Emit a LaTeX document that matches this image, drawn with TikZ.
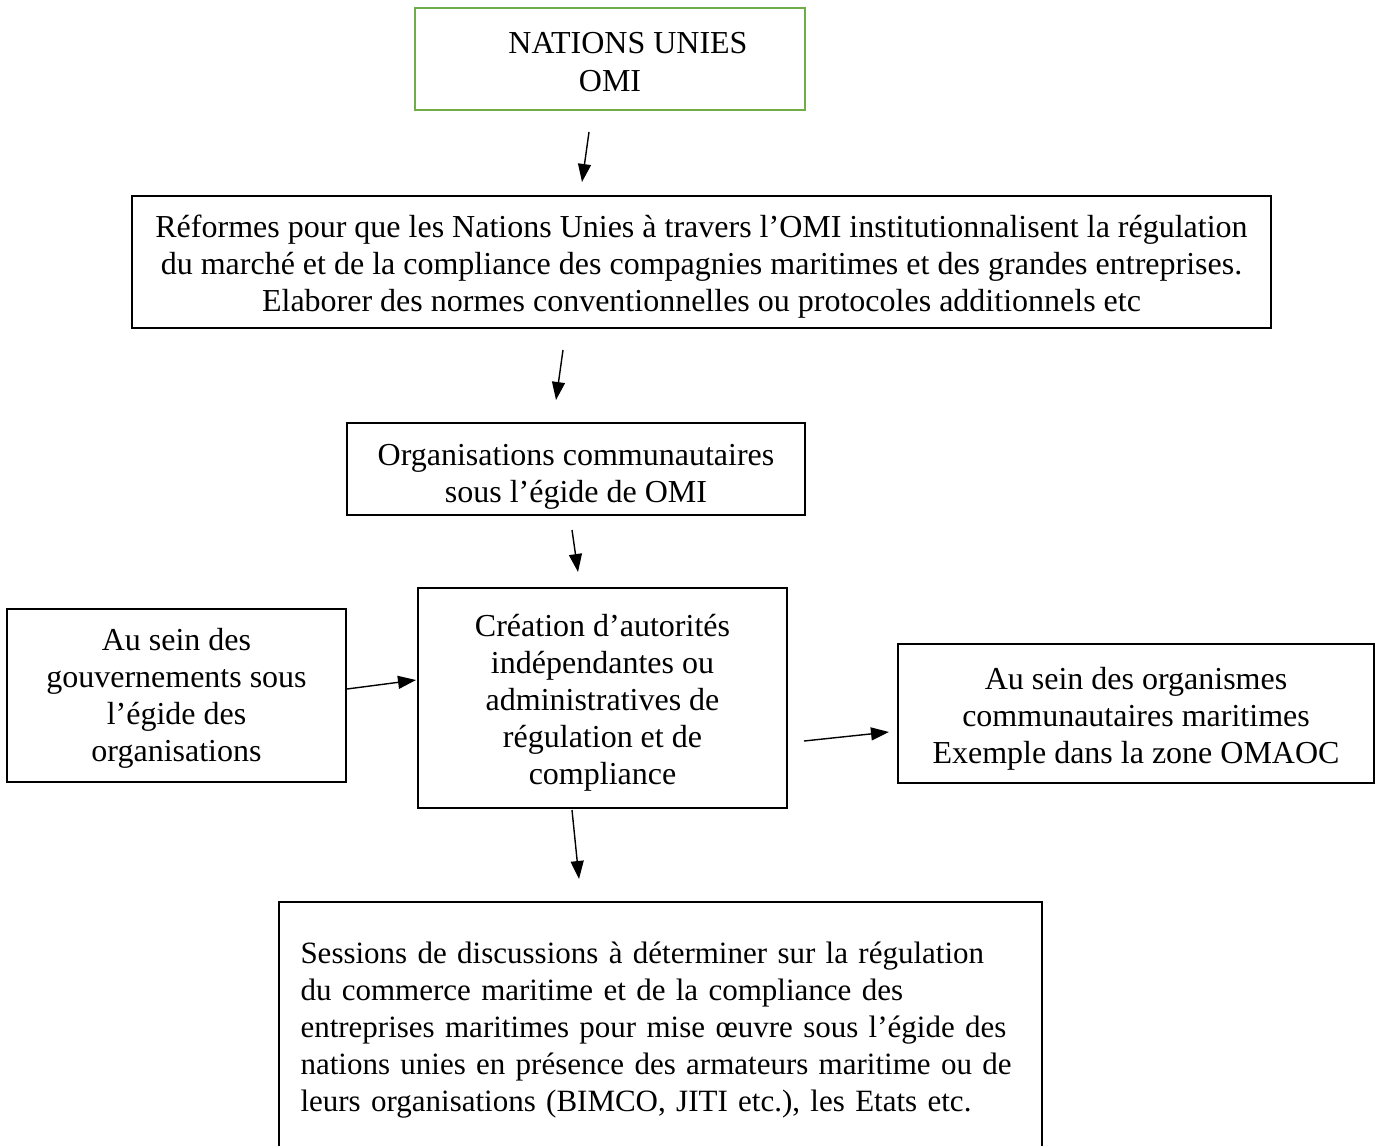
\documentclass[tikz,border=0pt]{standalone}
\usepackage{fontspec}
\setmainfont{Liberation Serif}
\usetikzlibrary{arrows.meta}
\definecolor{boxgreen}{HTML}{70AD47}
% struts that fix where the lines sit in a box
\newcommand{\topline}[1]{\rule{0pt}{#1}}
\newcommand{\lastline}{\rule[-5pt]{0pt}{5pt}}
\tikzset{
  box/.style={draw,line width=1pt,inner sep=0pt,align=center,
    font=\fontsize{16}{18.5}\selectfont},
  link/.style={-{Triangle[length=9pt,width=6.5pt]},line width=0.7pt}
}
\begin{document}
\begin{tikzpicture}[x=0.5pt,y=-0.5pt]
		\useasboundingbox (0,0) rectangle (1375,1145);
		\clip (0,0) rectangle (1375,1145);
		% set up nodes
		\node[box,draw=boxgreen,minimum width=195pt,minimum height=51pt] (onu) at (610,59)
			{\topline{18.5pt}\hspace*{18pt}NATIONS UNIES\\OMI\lastline};
		\node[box,minimum width=569.5pt,minimum height=66pt] (reformes) at (701.5,262)
			{\topline{17pt}Réformes pour que les Nations Unies à travers l’OMI institutionnalisent la régulation\\
			du marché et de la compliance des compagnies maritimes et des grandes entreprises.\\
			Elaborer des normes conventionnelles ou protocoles additionnels etc\lastline};
		\node[box,minimum width=229pt,minimum height=46pt] (orgcom) at (576,469)
			{\topline{20pt}Organisations communautaires\\sous l’égide de OMI\lastline};
		\node[box,minimum width=184.5pt,minimum height=110pt] (creation) at (602.5,698)
			{\topline{17.5pt}Création d’autorités\\indépendantes ou\\administratives de\\régulation et de\\compliance\lastline};
		\node[box,minimum width=169.5pt,minimum height=86.5pt] (gouv) at (176.5,695.5)
			{\topline{15pt}Au sein des\\gouvernements sous\\l’égide des\\organisations\lastline};
		\node[box,minimum width=238pt,minimum height=69.5pt] (organismes) at (1136,713.5)
			{\topline{17.5pt}Au sein des organismes\\communautaires maritimes\\Exemple dans la zone OMAOC\lastline};
		\node[box,align=left,text width=360pt,inner xsep=10.5pt,minimum width=381.5pt,
			minimum height=124pt,font=\fontsize{15.5}{18.5}\selectfont] (sessions) at (660.5,1026)
			{\topline{16pt}Sessions de discussions à déterminer sur la régulation\\
			du commerce maritime et de la compliance des\\
			entreprises maritimes pour mise œuvre sous l’égide des\\
			nations unies en présence des armateurs maritime ou de\\
			leurs organisations (BIMCO, JITI etc.), les Etats etc.\lastline};
		% arrow ends
		\coordinate (a1s) at (589,132); \coordinate (a1e) at (582,182);
		\coordinate (a2s) at (563,350); \coordinate (a2e) at (556,400);
		\coordinate (a3s) at (572,530); \coordinate (a3e) at (578,572);
		\coordinate (a4s) at (347,689); \coordinate (a4e) at (416,680);
		\coordinate (a5s) at (804,741); \coordinate (a5e) at (889,732);
		\coordinate (a6s) at (572,810); \coordinate (a6e) at (579,879);
		% connect them
		\draw[link] (a1s) -- (a1e);
		\draw[link] (a2s) -- (a2e);
		\draw[link] (a3s) -- (a3e);
		\draw[link] (a4s) -- (a4e);
		\draw[link] (a5s) -- (a5e);
		\draw[link] (a6s) -- (a6e);
	\end{tikzpicture}
\end{document}
